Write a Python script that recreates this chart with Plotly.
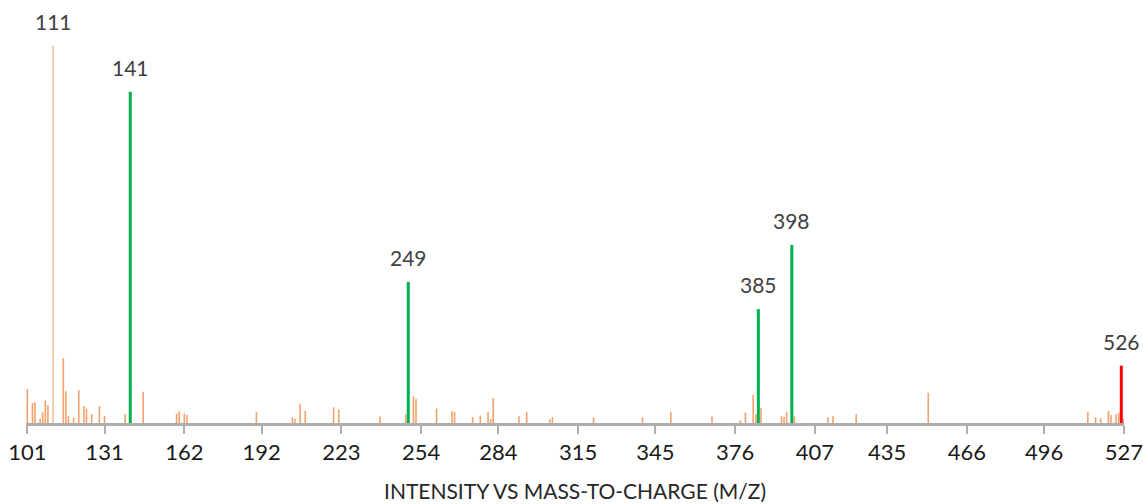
import plotly.graph_objects as go

# minor (unlabelled) peaks: m/z and relative intensity
minor_mz = [101, 103, 104, 106, 107, 108, 109, 115, 116, 117, 119, 121, 123, 124, 126, 129,
            131, 139, 146, 159, 160, 162, 163, 190, 204, 205, 207, 209, 220, 222, 238, 248,
            251, 252, 260, 266, 267, 274, 277, 280, 281, 282, 292, 295, 304, 305, 321, 340,
            351, 367, 378, 380, 383, 384, 386, 394, 395, 396, 399, 412, 414, 423, 451, 513,
            516, 518, 521, 522, 524, 525, 527]
minor_int = [9.0, 5.3, 5.5, 1.1, 2.8, 6.0, 4.7, 17.2, 8.4, 1.8, 1.4, 8.7, 4.5, 3.8, 2.4, 4.5,
             1.9, 2.4, 8.3, 2.5, 3.1, 2.5, 2.1, 2.9, 1.5, 1.1, 5.0, 3.2, 4.2, 3.6, 1.8, 2.3,
             7.1, 6.4, 3.8, 3.2, 2.9, 1.6, 2.0, 2.9, 1.1, 6.6, 1.8, 2.9, 1.0, 1.5, 1.5, 1.5,
             2.9, 1.8, 0.7, 2.7, 7.4, 2.3, 3.9, 1.8, 1.6, 3.0, 1.8, 1.5, 1.8, 2.3, 8.0, 2.9,
             1.5, 1.2, 3.2, 2.1, 2.3, 2.7, 1.2]

# labelled peaks
base_mz = [111]
base_int = [100.0]
green_mz = [141, 249, 385, 398]
green_int = [87.8, 37.4, 30.2, 47.2]
red_mz = [526]
red_int = [15.2]

tick_labels = [101, 131, 162, 192, 223, 254, 284, 315, 345, 376, 407, 435, 466, 496, 527]
x_title = "INTENSITY VS MASS-TO-CHARGE (M/Z)"


def sticks(xs, ys):
    px, py = [], []
    for x, y in zip(xs, ys):
        px += [x, x, None]
        py += [0, y, None]
    return px, py


fig = go.Figure()

for xs, ys, color, width in [
    (minor_mz, minor_int, "rgba(237,125,49,0.72)", 1.6),
    (base_mz, base_int, "rgba(230,135,75,0.85)", 1.0),
    (green_mz, green_int, "#00B050", 3),
    (red_mz, red_int, "#FF0000", 3),
]:
    px, py = sticks(xs, ys)
    fig.add_trace(go.Scatter(x=px, y=py, mode="lines",
                             line=dict(color=color, width=width),
                             hoverinfo="skip", showlegend=False))

for xs, ys in [(base_mz, base_int), (green_mz, green_int), (red_mz, red_int)]:
    for x, y in zip(xs, ys):
        fig.add_annotation(x=x, y=y, text=str(x), showarrow=False,
                           yanchor="bottom", xanchor="center", yshift=10,
                           font=dict(family="Lato", size=21, color="#404040"))

fig.add_annotation(x=0.5, y=-0.163, xref="paper", yref="paper", text=x_title,
                   showarrow=False, xanchor="center", yanchor="middle",
                   font=dict(family="Lato", size=21, color="#262626"))

fig.update_layout(
    width=1143, height=504,
    margin=dict(l=26, r=19, t=8, b=81),
    paper_bgcolor="white", plot_bgcolor="white",
    font=dict(family="Lato", size=20, color="#262626"),
    xaxis=dict(
        range=[100.5, 527.05], automargin=False,
        tickmode="array", tickvals=tick_labels, ticktext=[str(t) for t in tick_labels],
        ticklabeloverflow="allow",
        showgrid=False, zeroline=False,
        showline=True, linecolor="#ADADAD", linewidth=2.5,
        ticks="outside", ticklen=8, tickwidth=2, tickcolor="#ADADAD",
        tickfont=dict(family="Lato", size=22, color="#1a1a1a"),
    ),
    yaxis=dict(range=[0, 110], visible=False, automargin=False),
)

fig.write_html("out.html", config={"displayModeBar": False},
               post_script="document.body.style.margin='0';document.body.style.overflow='hidden';")
